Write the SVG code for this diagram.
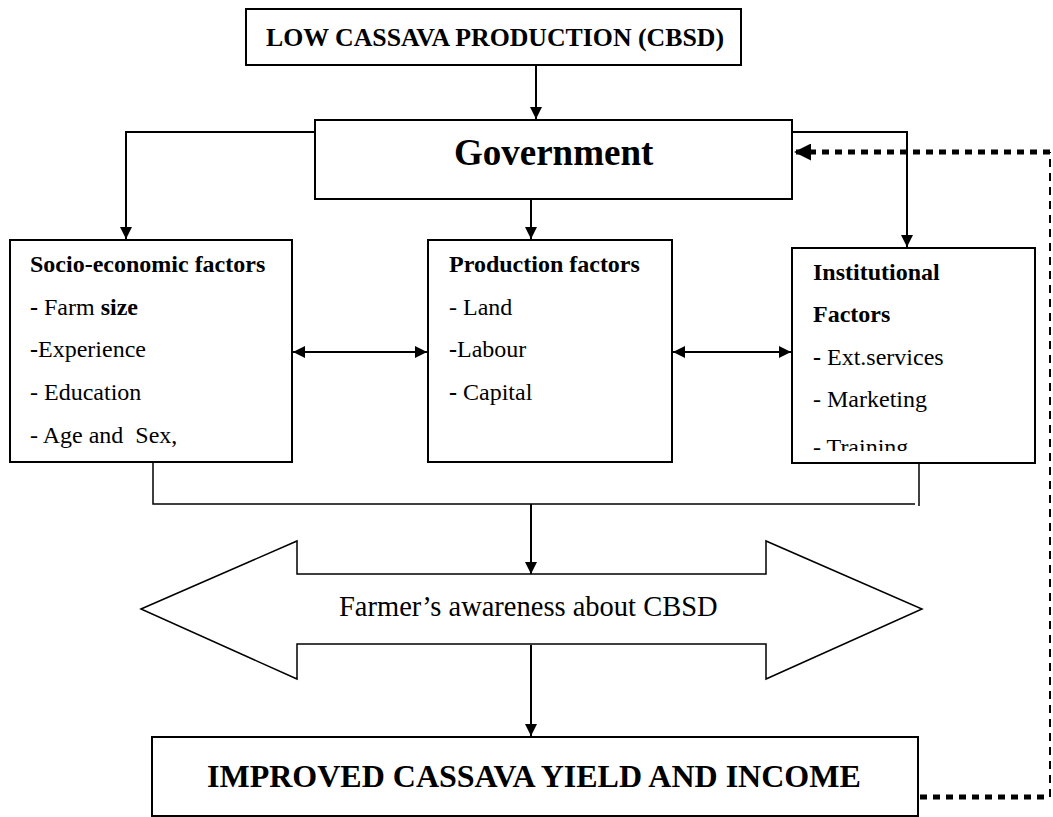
<svg xmlns="http://www.w3.org/2000/svg" width="1053" height="817" viewBox="0 0 1053 817" font-family="'Liberation Serif', 'Times New Roman', serif">
<style>
  .box { fill: #fff; stroke: #000; stroke-width: 2; }
  .ln { fill: none; stroke: #000; stroke-width: 2; }
  .thin { fill: none; stroke: #000; stroke-width: 1.5; }
  .b { font-weight: bold; }
  .body { font-size: 24px; white-space: pre; }
  .fb { fill: none; stroke: #000; stroke-width: 5; stroke-dasharray: 7 6; }
  .fbv { fill: none; stroke: #000; stroke-width: 2; stroke-dasharray: 8 6; }
</style>
<defs>
  <marker id="arr" viewBox="0 0 10 10" refX="10" refY="5" markerUnits="userSpaceOnUse" markerWidth="13" markerHeight="12" orient="auto-start-reverse">
    <path d="M0,0 L10,5 L0,10 z" fill="#000"/>
  </marker>
  <marker id="bigarr" viewBox="0 0 10 10" refX="10" refY="5" markerUnits="userSpaceOnUse" markerWidth="17" markerHeight="17" orient="auto">
    <path d="M0,0 L10,5 L0,10 z" fill="#000"/>
  </marker>
  <clipPath id="instClip"><rect x="792" y="248" width="243" height="203"/></clipPath>
</defs>

<g id="connectors">
  <line class="ln" x1="536" y1="65" x2="536" y2="119" marker-end="url(#arr)"/>
  <polyline class="ln" points="315,132 126,132 126,239" marker-end="url(#arr)"/>
  <polyline class="ln" points="792,132 907,132 907,247" marker-end="url(#arr)"/>
  <line class="ln" x1="531" y1="199" x2="531" y2="239" marker-end="url(#arr)"/>
  <line class="ln" x1="293" y1="352" x2="427" y2="352" marker-start="url(#arr)" marker-end="url(#arr)"/>
  <line class="ln" x1="673" y1="352" x2="791" y2="352" marker-start="url(#arr)" marker-end="url(#arr)"/>
  <polyline class="thin" points="153,463 153,504 915,504"/>
  <line class="thin" x1="919" y1="464" x2="919" y2="506"/>
  <line class="ln" x1="531" y1="504" x2="531" y2="574" marker-end="url(#arr)"/>
  <line class="ln" x1="531" y1="645" x2="531" y2="736" marker-end="url(#arr)"/>
  <line class="fb" x1="920" y1="797" x2="1050" y2="797"/>
  <line class="fbv" x1="1050" y1="797" x2="1050" y2="152"/>
  <line class="fb" x1="1050" y1="152" x2="794" y2="152" marker-end="url(#bigarr)"/>
</g>

<g id="low-production">
  <rect class="box" x="246" y="9" width="495" height="56"/>
  <text class="b" x="266" y="46" font-size="25.8">LOW CASSAVA PRODUCTION (CBSD)</text>
</g>

<g id="government">
  <rect class="box" x="315" y="120" width="477" height="79"/>
  <text class="b" x="454" y="165" font-size="37">Government</text>
</g>

<g id="socio-economic">
  <rect class="box" x="10" y="240" width="282" height="222"/>
  <text class="body b" x="30" y="272">Socio-economic factors</text>
  <text class="body" x="30" y="315"><tspan class="b">-</tspan> Farm <tspan class="b">size</tspan></text>
  <text class="body" x="30" y="357"><tspan class="b">-</tspan>Experience</text>
  <text class="body" x="30" y="400">- Education</text>
  <text class="body" x="30" y="443">- Age and  Sex,</text>
</g>

<g id="production">
  <rect class="box" x="428" y="240" width="244" height="222"/>
  <text class="body b" x="449" y="272">Production factors</text>
  <text class="body" x="449" y="315">- Land</text>
  <text class="body" x="449" y="357"><tspan class="b">-</tspan>Labour</text>
  <text class="body" x="449" y="400"><tspan class="b">-</tspan> Capital</text>
</g>

<g id="institutional">
  <rect class="box" x="792" y="248" width="243" height="215"/>
  <text class="body b" x="813" y="280">Institutional</text>
  <text class="body b" x="813" y="322">Factors</text>
  <text class="body" x="813" y="365"><tspan class="b">-</tspan> Ext.services</text>
  <text class="body" x="813" y="407">- Marketing</text>
  <text class="body" x="813" y="455" clip-path="url(#instClip)">- Training</text>
</g>

<g id="awareness">
  <path class="thin" fill="#fff" d="M141,609 L297,541 L297,574 L766,574 L766,541 L922,609 L766,679 L766,644 L297,644 L297,679 Z"/>
  <text x="339" y="616" font-size="28.5">Farmer’s awareness about CBSD</text>
</g>

<g id="improved-yield">
  <rect class="box" x="152" y="737" width="766" height="79"/>
  <text class="b" x="207" y="787" font-size="32">IMPROVED CASSAVA YIELD AND INCOME</text>
</g>
</svg>
